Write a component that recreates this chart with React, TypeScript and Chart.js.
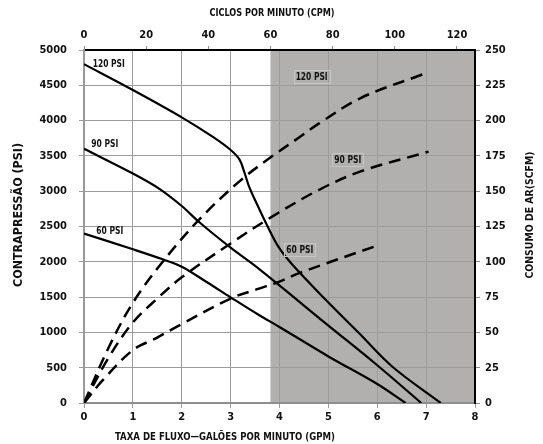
import React, { useEffect, useRef } from 'react';
import { Chart, registerables } from 'chart.js';

Chart.register(...registerables);

// ---- Data ----
// Backpressure (PSI) vs flow (GPM) – solid curves
const P120_GPM = [0, 1, 2, 2.63, 3.0, 3.18, 3.28, 3.38, 3.55, 3.75, 3.99, 4.27, 4.95, 5.63, 6.31, 7.3];
const P120_PSI = [4800, 4433, 4046, 3772, 3584, 3450, 3270, 3060, 2800, 2510, 2200, 1955, 1459, 987, 514, 0];

const P90_GPM = [0, 1, 1.55, 2.0, 2.36, 3.0, 3.58, 4.95, 6.0, 6.9];
const P90_PSI = [3600, 3250, 3030, 2790, 2560, 2200, 1900, 1125, 535, 0];

const P60_GPM = [0, 1, 1.61, 2.0, 2.5, 3.0, 3.58, 3.99, 5.01, 6.0, 6.58];
const P60_PSI = [2400, 2177, 2035, 1931, 1718, 1497, 1246, 1081, 656, 269, 0];

// Air consumption (SCFM) vs flow (GPM) – dashed curves
const A120_GPM = [0, 0.5, 1, 1.61, 2.36, 3.18, 3.82, 4.4, 4.81, 5.66, 6.95];
const A120_SCFM = [0, 39, 71, 100, 130, 157, 174, 188, 198, 216, 233];

const A90_GPM = [0, 0.5, 1, 1.5, 2, 3, 3.85, 4.81, 5.66, 7.05];
const A90_SCFM = [0, 32, 57, 74, 89, 113, 132, 151, 164, 178];

const A60_GPM = [0, 0.38, 1, 1.48, 1.95, 3, 3.58, 4, 4.4, 6.04];
const A60_SCFM = [0, 16, 37.5, 46, 55, 74, 81, 86, 92, 112];

// Axes
const GPM_MAX = 8;
const PSI_MAX = 5000;
const SCFM_MAX = 250;
const CPM_MAX = 125.8; // top axis aligned with GPM axis
const CPM_SHADE_START = 60; // shaded region begins at 60 CPM

const SERIES_NAMES = ['120 PSI', '90 PSI', '60 PSI'];

// In-plot labels (data coordinates: GPM, PSI)
const LABEL_TEXT = ['120 PSI', '90 PSI', '60 PSI', '120 PSI', '90 PSI', '60 PSI'];
const LABEL_GPM = [0.18, 0.15, 0.25, 4.33, 5.12, 4.14];
const LABEL_PSI = [4800, 3664, 2427, 4611, 3438, 2163];
const LABEL_BOXED = [false, false, false, true, true, true];

const TITLE_TOP = 'CICLOS POR MINUTO (CPM)';
const TITLE_BOTTOM = 'TAXA DE FLUXO\u2014GALÕES POR MINUTO (GPM)';
const TITLE_LEFT = 'CONTRAPRESSÃO (PSI)';
const TITLE_RIGHT = 'CONSUMO DE AR(SCFM)';

const FONT = "'DejaVu Sans Condensed', 'DejaVu Sans', sans-serif";

function pts(xs: number[], ys: number[]) {
  return xs.map((x, i) => ({ x, y: ys[i] }));
}

// draw text at (x, y), horizontally condensed to a target width
function drawText(ctx: any, text: string, x: number, y: number, size: number, targetWidth: number | null, rot: number, align: string) {
  ctx.save();
  ctx.font = `bold ${size}px ${FONT}`;
  ctx.textAlign = align;
  ctx.textBaseline = 'middle';
  const w = ctx.measureText(text).width;
  const sx = targetWidth ? targetWidth / w : 1;
  ctx.translate(x, y);
  if (rot) ctx.rotate(rot);
  ctx.scale(sx, 1);
  ctx.fillText(text, 0, 0);
  ctx.restore();
  return w * sx;
}

const shadePlugin = {
  id: 'shade',
  beforeDraw(chart: any) {
    const { ctx, chartArea } = chart;
    const top = chart.scales.x2;
    const x0 = top.getPixelForValue(CPM_SHADE_START);
    ctx.save();
    ctx.fillStyle = '#b1b0af';
    ctx.fillRect(x0, chartArea.top, chartArea.right - x0, chartArea.bottom - chartArea.top);
    ctx.restore();
  },
};

const textPlugin = {
  id: 'texts',
  afterDraw(chart: any) {
    const { ctx } = chart;
    const xs = chart.scales.x;
    const ys = chart.scales.y;
    ctx.save();
    ctx.fillStyle = '#111';
    // in-plot labels
    LABEL_TEXT.forEach((t, i) => {
      const px = xs.getPixelForValue(LABEL_GPM[i]);
      const py = ys.getPixelForValue(LABEL_PSI[i]);
      const tw = t.length === 7 ? 32 : 27;
      if (LABEL_BOXED[i]) {
        ctx.strokeStyle = '#c6c6c6';
        ctx.lineWidth = 1;
        ctx.strokeRect(Math.round(px) - 1.5, Math.round(py) - 6.5, tw + 4, 13);
      }
      drawText(ctx, t, px, py, 10, tw, 0, 'left');
    });
    // axis titles
    drawText(ctx, TITLE_TOP, 272, 13, 11, 125, 0, 'center');
    drawText(ctx, TITLE_BOTTOM, 225, 437, 11, 220, 0, 'center');
    drawText(ctx, TITLE_LEFT, 19, 215, 12, 144, -Math.PI / 2, 'center');
    drawText(ctx, TITLE_RIGHT, 530, 215, 11, 127, -Math.PI / 2, 'center');
    ctx.restore();
  },
};

export default function App() {
  const ref = useRef<HTMLCanvasElement | null>(null);

  useEffect(() => {
    const canvas = ref.current;
    if (!canvas) return;
    const tickFont = { family: FONT, size: 11, weight: 'bold' as const };
    const gridColor = '#9c9c9c';
    const plain = (v: any) => String(v);
    const solid = (label: string, xs: number[], ys: number[]) => ({
      label,
      data: pts(xs, ys),
      yAxisID: 'y',
      xAxisID: 'x',
      borderColor: '#000',
      borderWidth: 2.2,
      pointRadius: 0,
      fill: false,
      tension: 0.35,
    });
    const dashed = (label: string, xs: number[], ys: number[]) => ({
      label,
      data: pts(xs, ys),
      yAxisID: 'y2',
      xAxisID: 'x',
      borderColor: '#000',
      borderWidth: 2.5,
      borderDash: [12, 7],
      pointRadius: 0,
      fill: false,
      tension: 0.35,
    });

    const chart = new Chart(canvas, {
      type: 'line',
      data: {
        datasets: [
          solid(SERIES_NAMES[0], P120_GPM, P120_PSI),
          solid(SERIES_NAMES[1], P90_GPM, P90_PSI),
          solid(SERIES_NAMES[2], P60_GPM, P60_PSI),
          dashed(SERIES_NAMES[0] + ' ar', A120_GPM, A120_SCFM),
          dashed(SERIES_NAMES[1] + ' ar', A90_GPM, A90_SCFM),
          dashed(SERIES_NAMES[2] + ' ar', A60_GPM, A60_SCFM),
        ],
      },
      options: {
        responsive: false,
        animation: false,
        devicePixelRatio: 1,
        layout: { padding: 0 },
        plugins: {
          legend: { display: false },
          tooltip: { enabled: false },
          title: { display: false },
        },
        scales: {
          x: {
            type: 'linear',
            position: 'bottom',
            min: 0,
            max: GPM_MAX,
            ticks: { stepSize: 1, font: tickFont, color: '#111', padding: 3, maxRotation: 0, callback: plain },
            grid: { color: gridColor, lineWidth: 1, tickLength: 5 },
            border: { color: '#8e8e8e', width: 2 },
            afterFit: (s: any) => { s.height = 41; },
          },
          x2: {
            type: 'linear',
            position: 'top',
            min: 0,
            max: CPM_MAX,
            ticks: { stepSize: 20, includeBounds: false, font: tickFont, color: '#111', padding: 4, maxRotation: 0, callback: plain },
            grid: { drawOnChartArea: false, color: '#8e8e8e', tickLength: 4 },
            border: { color: '#000', width: 2 },
            afterFit: (s: any) => { s.height = 50; },
          },
          y: {
            type: 'linear',
            position: 'left',
            min: 0,
            max: PSI_MAX,
            ticks: { stepSize: 500, font: tickFont, color: '#111', padding: 12, callback: plain },
            grid: { color: gridColor, lineWidth: 1, tickLength: 5 },
            border: { color: '#9a9a9a', width: 2 },
            afterFit: (s: any) => { s.width = 84; },
          },
          y2: {
            type: 'linear',
            position: 'right',
            min: 0,
            max: SCFM_MAX,
            ticks: { stepSize: 25, font: tickFont, color: '#111', padding: 5, callback: plain },
            grid: { drawOnChartArea: false, color: '#8e8e8e', tickLength: 5 },
            border: { color: '#000', width: 2 },
            afterFit: (s: any) => { s.width = 68; },
          },
        },
      },
      plugins: [shadePlugin, textPlugin],
    } as any);

    return () => chart.destroy();
  }, []);

  return (
    <div style={{ position: 'fixed', left: 0, top: 0, width: 543, height: 444, background: '#fff' }}>
      <canvas ref={ref} width={543} height={444} style={{ display: 'block', width: 543, height: 444 }} />
    </div>
  );
}
